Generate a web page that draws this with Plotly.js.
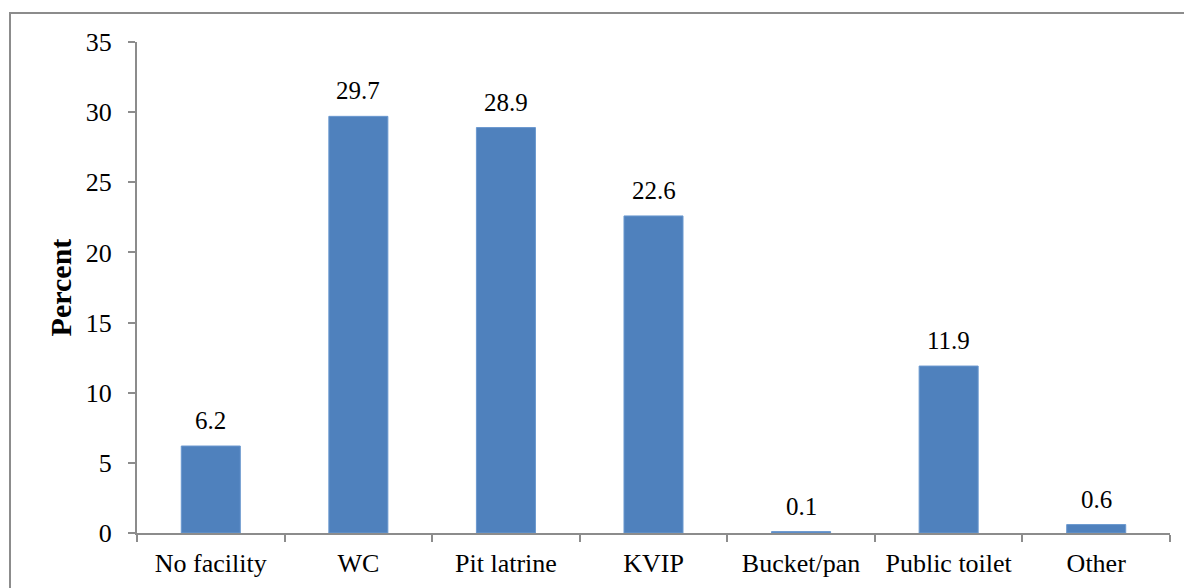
<!DOCTYPE html>
<html>
<head>
<meta charset="utf-8">
<script src="https://cdn.plot.ly/plotly-3.0.1.min.js"></script>
<style>
html,body{margin:0;padding:0;background:#fff;}
#wrap{position:relative;width:1184px;height:588px;overflow:hidden;}
#chart{position:absolute;left:0;top:0;width:1184px;height:588px;}
#frame{position:absolute;left:9px;top:12px;width:1200px;height:620px;border:2px solid #8c8c8c;pointer-events:none;box-sizing:border-box;}
</style>
</head>
<body>
<div id="wrap"><div id="chart"></div><div id="frame"></div></div>
<script>
const categories = ["No facility", "WC", "Pit latrine", "KVIP", "Bucket/pan", "Public toilet", "Other"];
const percents = [6.2, 29.7, 28.9, 22.6, 0.1, 11.9, 0.6];
const valueLabels = ["6.2", "29.7", "28.9", "22.6", "0.1", "11.9", "0.6"];

const font = "Liberation Serif";

const trace = {
  type: "bar",
  x: categories,
  y: percents,
  width: 0.4,
  marker: {color: "#4F81BD", line: {color: "#6a98cf", width: 1}},
  hoverinfo: "skip"
};

const annotations = categories.map((c, i) => ({
  x: c, y: percents[i], xref: "x", yref: "y",
  text: valueLabels[i], showarrow: false,
  yanchor: "bottom", yshift: 10,
  font: {family: font, size: 25, color: "#000"}
}));

const layout = {
  width: 1184, height: 588,
  margin: {l: 137, r: 14, t: 42, b: 55},
  paper_bgcolor: "rgba(0,0,0,0)",
  plot_bgcolor: "#fff",
  showlegend: false,
  font: {family: font, size: 26, color: "#000"},
  xaxis: {
    type: "category",
    showline: true, linecolor: "#8c8c8c", linewidth: 2,
    ticks: "outside", tickson: "boundaries", ticklen: 7, tickcolor: "#8c8c8c", tickwidth: 2,
    showgrid: false, zeroline: false,
    tickfont: {family: font, size: 26, color: "#000"},
    ticklabelstandoff: 6,
    fixedrange: true
  },
  yaxis: {
    range: [0, 35], dtick: 5, tick0: 0,
    showline: true, linecolor: "#8c8c8c", linewidth: 2,
    ticks: "outside", ticklen: 7, tickcolor: "#8c8c8c", tickwidth: 2,
    showgrid: false, zeroline: false,
    tickfont: {family: font, size: 26, color: "#000"},
    ticklabelstandoff: 11,
    title: {text: "<b>Percent</b>", font: {family: font, size: 30, color: "#000"}, standoff: 5},
    fixedrange: true
  },
  annotations: annotations
};

Plotly.newPlot("chart", [trace], layout, {displayModeBar: false, staticPlot: true});
</script>
</body>
</html>
